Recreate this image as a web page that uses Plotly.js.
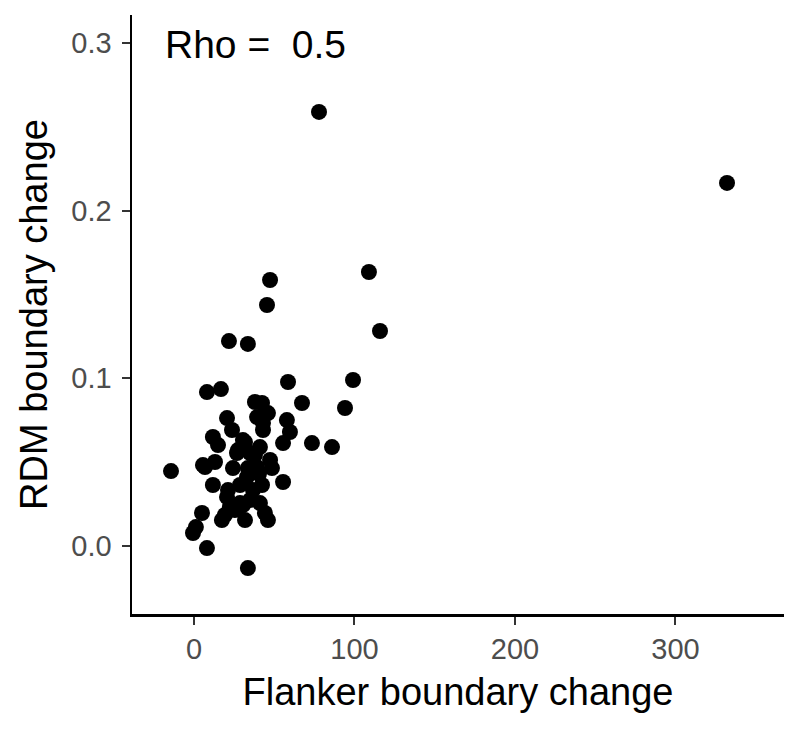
<!DOCTYPE html>
<html>
<head>
<meta charset="utf-8">
<script src="https://cdn.plot.ly/plotly-3.0.1.min.js"></script>
<style>html,body{margin:0;padding:0;background:#fff;}#chart{width:800px;height:731px;}</style>
</head>
<body>
<div id="chart"></div>
<script>
// Flanker boundary change (x) vs RDM boundary change (y)
const flankerChange = [
  332.1, 77.9, 47.4, 45.5, 109.0, 115.9, 21.8, 33.6, 99.1, 58.6,
  67.3, 94.1, 73.5, 86.0, -14.3, 33.6, 8.1, -0.6, 1.2, 5.0,
  8.1, 16.8, 38.0, 42.4, 39.3, 43.0, 20.6, 23.7, 11.8, 15.0,
  30.5, 26.8, 34.9, 5.6, 13.1, 57.9, 59.8, 55.5, 43.0, 41.1,
  47.4, 48.6, 6.9, 11.8, 20.6, 19.3, 25.5, 28.7, 39.3, 33.0,
  36.8, 41.1, 55.5, 44.2, 46.1, 40.5, 22.4, 17.4, 30.5, 34.9,
  24.3, 33.6, 27.4, 46.1, 31.8, 38.0, 21.2, 28.7, 42.4, 31.8
];
const rdmChange = [
  0.2165, 0.2588, 0.1586, 0.1437, 0.1634, 0.1282, 0.1222, 0.1205, 0.0990, 0.0978,
  0.0853, 0.0823, 0.0614, 0.0590, 0.0447, -0.0131, -0.0012, 0.0078, 0.0113, 0.0197,
  0.0918, 0.0936, 0.0859, 0.0853, 0.0769, 0.0733, 0.0763, 0.0692, 0.0650, 0.0602,
  0.0632, 0.0555, 0.0555, 0.0483, 0.0501, 0.0751, 0.0680, 0.0614, 0.0692, 0.0590,
  0.0513, 0.0465, 0.0471, 0.0364, 0.0292, 0.0185, 0.0215, 0.0256, 0.0471, 0.0411,
  0.0334, 0.0256, 0.0382, 0.0197, 0.0155, 0.0430, 0.0233, 0.0155, 0.0244, 0.0274,
  0.0465, 0.0465, 0.0572, 0.0793, 0.0620, 0.0543, 0.0334, 0.0364, 0.0364, 0.0155
];
const xTicks = [0, 100, 200, 300];
const yTicks = [0.0, 0.1, 0.2, 0.3];
const yTickLabels = ["0.0", "0.1", "0.2", "0.3"];
const rhoText = "Rho =\u00A0\u00A00.5";

const trace = {
  x: flankerChange, y: rdmChange, type: "scatter", mode: "markers",
  marker: {color: "#000000", size: 16, line: {width: 0}},
  hoverinfo: "skip"
};

const layout = {
  width: 800, height: 731,
  paper_bgcolor: "#ffffff", plot_bgcolor: "#ffffff",
  margin: {l: 132, r: 16, t: 15, b: 117},
  showlegend: false,
  font: {family: "Liberation Sans, Arial, sans-serif"},
  xaxis: {
    range: [-38.6, 367.6], tickvals: xTicks, ticktext: xTicks.map(String),
    showgrid: false, zeroline: false,
    showline: true, linecolor: "#000000", linewidth: 2.5,
    ticks: "outside", ticklen: 8, tickwidth: 2, tickcolor: "#333333",
    tickfont: {size: 29, color: "#4D4D4D"},
    title: {text: "Flanker boundary change", font: {size: 38, color: "#000000"}, standoff: 14},
    automargin: false
  },
  yaxis: {
    range: [-0.0405, 0.3166], tickvals: yTicks, ticktext: yTickLabels,
    showgrid: false, zeroline: false,
    showline: true, linecolor: "#000000", linewidth: 2.5,
    ticks: "outside", ticklen: 8, tickwidth: 2, tickcolor: "#333333",
    ticklabelstandoff: 4,
    tickfont: {size: 29, color: "#4D4D4D"},
    title: {text: "RDM boundary change", font: {size: 38, color: "#000000"}, standoff: 12},
    automargin: false
  },
  annotations: [{
    xref: "paper", yref: "paper", x: 0.047, y: 0.95,
    xanchor: "left", yanchor: "middle", showarrow: false,
    text: rhoText, font: {size: 39, color: "#000000"}
  }]
};

Plotly.newPlot("chart", [trace], layout, {staticPlot: true, displayModeBar: false});
</script>
</body>
</html>
